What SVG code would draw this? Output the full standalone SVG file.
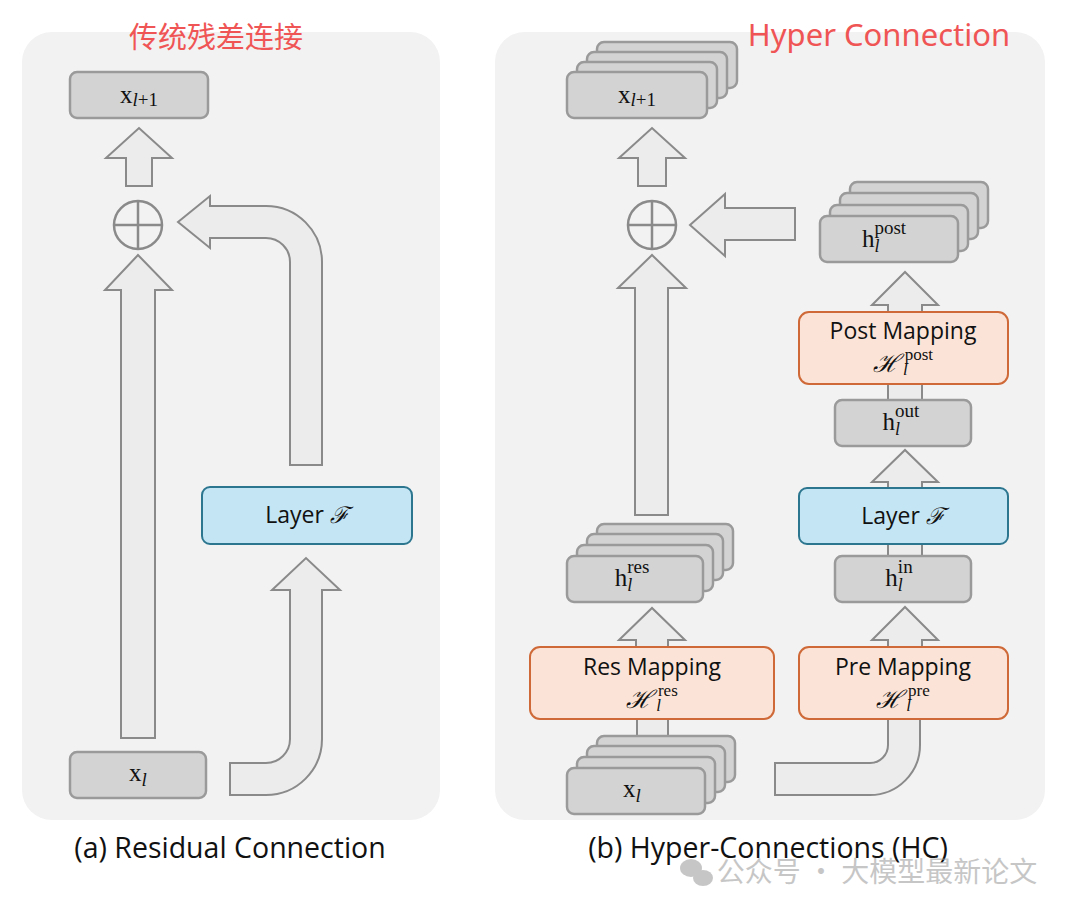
<svg xmlns="http://www.w3.org/2000/svg" width="1080" height="913" viewBox="0 0 1080 913">
<style>
.panel{fill:#f2f2f2}
.box{fill:#d3d3d3;stroke:#9a9a9a;stroke-width:2.5}
.arr{fill:#ececec;stroke:#8a8a8a;stroke-width:2}
.layer{fill:#c4e5f3;stroke:#2d7690;stroke-width:2}
.map{fill:#fbe4d7;stroke:#cf6a38;stroke-width:2}
.lbl{font-family:"Open Sans","DejaVu Sans",sans-serif;font-size:23px;fill:#111;text-anchor:middle}
.m{font-family:"Liberation Serif","DejaVu Serif",serif;font-size:25px;fill:#111;text-anchor:middle}
.it{font-style:italic}
.cap{font-family:"Open Sans","DejaVu Sans",sans-serif;font-size:28.5px;fill:#111;text-anchor:middle}
.red{font-family:"Noto Sans","Noto Sans CJK SC",sans-serif;fill:#f05555;text-anchor:middle}
</style>
<rect class="panel" x="22" y="32" width="418" height="788" rx="30"/>
<rect class="panel" x="495" y="32" width="550" height="788" rx="30"/>
<g id="connectors">
<path class="arr" d="M126 186V158H106L139 128L172 158H152V186Z"/>
<path class="arr" d="M121 738V290H105L138 255L172 290H155V738Z"/>
<path class="arr" d="M290 465V262A24 24 0 0 0 266 238H210V248L178 222L210 196V206H266A56 56 0 0 1 322 262V465Z"/>
<path class="arr" d="M230 795V763H266A24 24 0 0 0 290 739V590H272L306 558L340 590H322V739A56 56 0 0 1 266 795Z"/>
<path class="arr" d="M638 186V158H619L652 128L685 158H666V186Z"/>
<path class="arr" d="M795 208V240H725V256L690 225L725 194V208Z"/>
<path class="arr" d="M635 515V288H618L652 255L686 288H668V515Z"/>
<path class="arr" d="M636 648V640H619L652 608L685 640H668V648Z"/>
<rect class="arr" x="637" y="718" width="31" height="20"/>
<path class="arr" d="M888 313V305H872L905 272L938 305H922V313Z"/>
<rect class="arr" x="888" y="383" width="34" height="18"/>
<path class="arr" d="M888 489V482H872L905 450L938 482H922V489Z"/>
<rect class="arr" x="888" y="543" width="34" height="14"/>
<path class="arr" d="M888 648V640H872L905 607L938 640H922V648Z"/>
<path class="arr" d="M888 718V745A18 18 0 0 1 870 763H775V795H870A50 50 0 0 0 920 745V718Z"/>
<circle cx="138" cy="225" r="24" fill="#f2f2f2" stroke="#8a8a8a" stroke-width="2.5"/>
<path d="M114 225H162M138 201V249" stroke="#8a8a8a" stroke-width="2.5"/>
<circle cx="652" cy="225" r="24" fill="#f2f2f2" stroke="#8a8a8a" stroke-width="2.5"/>
<path d="M628 225H676M652 201V249" stroke="#8a8a8a" stroke-width="2.5"/>
</g>
<g id="xl1_a"><rect class="box" x="70" y="72" width="138" height="46" rx="7"/>
<text class="m" x="139" y="103">x<tspan class="it" font-size="19" dy="3">l</tspan><tspan font-size="19">+1</tspan></text></g>
<g id="xl_a"><rect class="box" x="70" y="752" width="136" height="46" rx="7"/>
<text class="m" x="138" y="781">x<tspan class="it" font-size="19" dy="5">l</tspan></text></g>
<g id="layer_a"><rect class="layer" x="202" y="487" width="210" height="57" rx="8"/>
<text class="lbl" x="307" y="523">Layer <tspan class="it" font-family="Liberation Serif,serif">ℱ</tspan></text></g>

<g id="xl1_b">
<rect class="box" x="597" y="42" width="140" height="46" rx="7"/>
<rect class="box" x="587" y="52" width="140" height="46" rx="7"/>
<rect class="box" x="577" y="62" width="140" height="46" rx="7"/>
<rect class="box" x="567" y="72" width="140" height="46" rx="7"/>
<text class="m" x="637" y="103">x<tspan class="it" font-size="19" dy="3">l</tspan><tspan font-size="19">+1</tspan></text></g>
<g id="hpost">
<rect class="box" x="850" y="182" width="138" height="46" rx="7"/>
<rect class="box" x="840" y="193" width="138" height="46" rx="7"/>
<rect class="box" x="830" y="205" width="138" height="46" rx="7"/>
<rect class="box" x="820" y="216" width="138" height="46" rx="7"/>
<text class="m" x="884" y="247">h<tspan class="it" font-size="18" dy="5">l</tspan><tspan font-size="19" dx="-5" dy="-18">post</tspan></text></g>
<g id="post"><rect class="map" x="799" y="312" width="209" height="72" rx="10"/>
<text class="lbl" x="903" y="339">Post Mapping</text>
<text class="m" x="903" y="372" font-size="22"><tspan class="it">ℋ</tspan><tspan class="it" font-size="17" dx="4" dy="3">l</tspan><tspan font-size="17" dx="-3" dy="-15">post</tspan></text></g>
<g id="hout"><rect class="box" x="835" y="400" width="136" height="46" rx="7"/>
<text class="m" x="901" y="430">h<tspan class="it" font-size="18" dy="5">l</tspan><tspan font-size="19" dx="-5" dy="-18">out</tspan></text></g>
<g id="layer_b"><rect class="layer" x="799" y="488" width="209" height="56" rx="8"/>
<text class="lbl" x="903" y="524">Layer <tspan class="it" font-family="Liberation Serif,serif">ℱ</tspan></text></g>
<g id="hin"><rect class="box" x="835" y="556" width="136" height="46" rx="7"/>
<text class="m" x="899" y="586">h<tspan class="it" font-size="18" dy="5">l</tspan><tspan font-size="19" dx="-5" dy="-18">in</tspan></text></g>
<g id="pre"><rect class="map" x="799" y="647" width="209" height="72" rx="10"/>
<text class="lbl" x="903" y="675">Pre Mapping</text>
<text class="m" x="903" y="708" font-size="22"><tspan class="it">ℋ</tspan><tspan class="it" font-size="17" dx="4" dy="3">l</tspan><tspan font-size="17" dx="-3" dy="-15">pre</tspan></text></g>
<g id="hres">
<rect class="box" x="597" y="524" width="136" height="46" rx="7"/>
<rect class="box" x="587" y="534" width="136" height="46" rx="7"/>
<rect class="box" x="577" y="545" width="136" height="46" rx="7"/>
<rect class="box" x="567" y="556" width="136" height="46" rx="7"/>
<text class="m" x="632" y="586">h<tspan class="it" font-size="18" dy="5">l</tspan><tspan font-size="19" dx="-5" dy="-18">res</tspan></text></g>
<g id="res"><rect class="map" x="530" y="647" width="244" height="72" rx="10"/>
<text class="lbl" x="652" y="675">Res Mapping</text>
<text class="m" x="652" y="708" font-size="22"><tspan class="it">ℋ</tspan><tspan class="it" font-size="17" dx="4" dy="3">l</tspan><tspan font-size="17" dx="-3" dy="-15">res</tspan></text></g>
<g id="xl_b">
<rect class="box" x="597" y="736" width="138" height="46" rx="7"/>
<rect class="box" x="587" y="746" width="138" height="46" rx="7"/>
<rect class="box" x="577" y="757" width="138" height="46" rx="7"/>
<rect class="box" x="567" y="768" width="138" height="46" rx="7"/>
<text class="m" x="632" y="797">x<tspan class="it" font-size="19" dy="5">l</tspan></text></g>

<text class="red" x="216" y="48" font-size="29">传统残差连接</text>
<text class="red" x="879" y="46" font-size="31">Hyper Connection</text>
<text class="cap" x="230" y="858">(a) Residual Connection</text>
<text class="cap" x="768" y="858">(b) Hyper-Connections (HC)</text>
<g opacity="0.55" fill="#999">
<ellipse cx="691" cy="868" rx="11" ry="9"/><ellipse cx="703" cy="878" rx="10" ry="8"/>
<text x="877" y="882" font-family="Noto Sans CJK SC,sans-serif" font-size="28" text-anchor="middle">公众号 · 大模型最新论文</text></g>
</svg>
